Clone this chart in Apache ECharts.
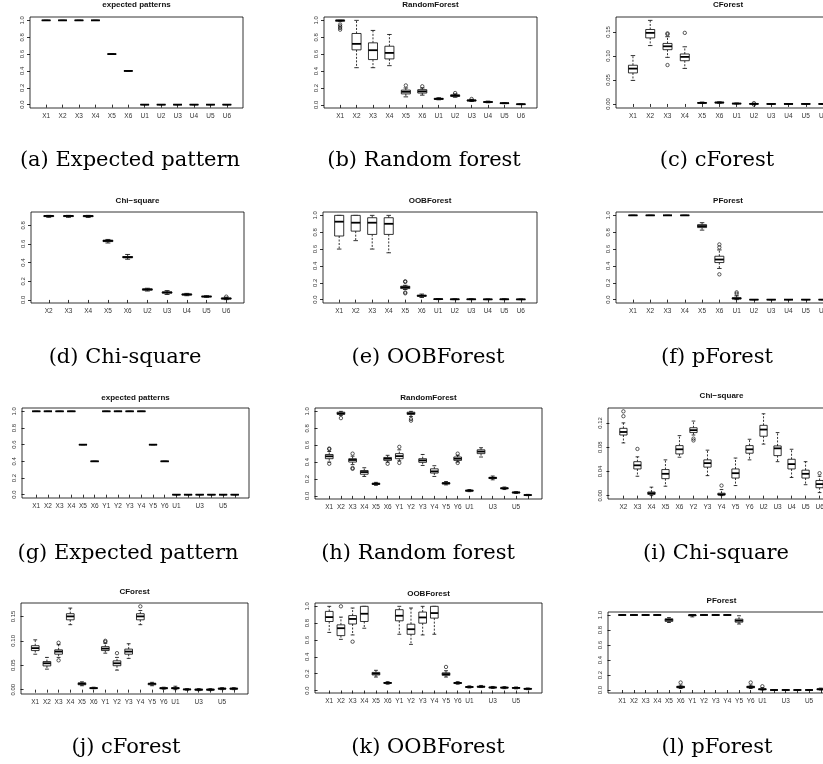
<!DOCTYPE html>
<html>
<head>
<meta charset="utf-8">
<script src="https://cdn.jsdelivr.net/npm/echarts@6/dist/echarts.min.js"></script>
<style>
html, body { margin: 0; padding: 0; background: #fff; }
#main { width: 823px; height: 764px; }
</style>
</head>
<body>
<div id="main"></div>
<script>
// tick labels on the x axes
var lab12 = ['X1', 'X2', 'X3', 'X4', 'X5', 'X6', 'U1', 'U2', 'U3', 'U4', 'U5', 'U6']
var labChi10 = ['X2', 'X3', 'X4', 'X5', 'X6', 'U2', 'U3', 'U4', 'U5', 'U6']
var lab18 = ['X1', 'X2', 'X3', 'X4', 'X5', 'X6', 'Y1', 'Y2', 'Y3', 'Y4', 'Y5', 'Y6', 'U1', '', 'U3', '', 'U5', '']
var labChi15 = ['X2', 'X3', 'X4', 'X5', 'X6', 'Y2', 'Y3', 'Y4', 'Y5', 'Y6', 'U2', 'U3', 'U4', 'U5', 'U6']

// y tick values
var ticks10 = [0, 0.2, 0.4, 0.6, 0.8, 1.0]
var ticks08 = [0, 0.2, 0.4, 0.6, 0.8]
var ticks15 = [0, 0.05, 0.10, 0.15]
var ticks12 = [0, 0.04, 0.08, 0.12]

// expected patterns
var expA = [1, 1, 1, 1, 0.6, 0.4, 0, 0, 0, 0, 0, 0]
var expG = [1, 1, 1, 1, 0.6, 0.4, 1, 1, 1, 1, 0.6, 0.4, 0, 0, 0, 0, 0, 0]

// box stats: [lower whisker, Q1, median, Q3, upper whisker]
var rfB = [[0.985, 0.99, 1.0, 1.0, 1.0], [0.44, 0.651, 0.722, 0.845, 1.0], [0.44, 0.536, 0.647, 0.734, 0.881],
  [0.464, 0.544, 0.615, 0.694, 0.833], [0.095, 0.13, 0.155, 0.175, 0.2], [0.115, 0.14, 0.16, 0.18, 0.2],
  [0.06, 0.065, 0.071, 0.078, 0.085], [0.09, 0.1, 0.11, 0.118, 0.13], [0.04, 0.047, 0.052, 0.058, 0.065],
  [0.025, 0.03, 0.034, 0.038, 0.045], [0.015, 0.018, 0.02, 0.022, 0.025], [0.003, 0.006, 0.008, 0.01, 0.012]]
var rfBOut = [[0.95, 0.93, 0.91, 0.89], [], [], [], [0.23], [0.22], [], [0.14], [0.07], [], [], []]

var cfC = [[0.049, 0.0646, 0.0736, 0.0806, 0.1007], [0.1215, 0.1375, 0.148, 0.155, 0.174], [0.097, 0.113, 0.12, 0.126, 0.14],
  [0.074, 0.09, 0.098, 0.104, 0.119], [0.001, 0.0015, 0.0022, 0.003, 0.004], [0.0015, 0.002, 0.003, 0.0035, 0.0045],
  [0, 0.0004, 0.0008, 0.0012, 0.002], [-0.0008, -0.0003, 0.0002, 0.0006, 0.0012], [-0.0005, -0.0002, 0, 0.0002, 0.0005],
  [-0.0008, -0.0003, 0, 0.0003, 0.0008], [-0.0004, -0.0002, 0, 0.0002, 0.0004], [-0.0004, -0.0002, 0, 0.0002, 0.0004]]
var cfCOut = [[], [], [0.145, 0.147, 0.081], [0.148], [], [], [], [0.0018, -0.0014], [], [], [], []]

var chiD = [[0.885, 0.893, 0.9, 0.903, 0.906], [0.885, 0.893, 0.9, 0.903, 0.906], [0.884, 0.892, 0.899, 0.903, 0.906],
  [0.61, 0.625, 0.633, 0.64, 0.648], [0.436, 0.452, 0.458, 0.465, 0.487], [0.095, 0.105, 0.112, 0.118, 0.125],
  [0.058, 0.073, 0.08, 0.085, 0.1], [0.045, 0.053, 0.058, 0.063, 0.07], [0.028, 0.033, 0.036, 0.04, 0.045],
  [0.003, 0.01, 0.015, 0.02, 0.03]]
var chiDOut = [[], [], [], [], [], [], [], [], [], [0.035]]

var oobE = [[0.6, 0.755, 0.925, 1.0, 1.0], [0.7, 0.813, 0.913, 1.0, 1.0], [0.6, 0.774, 0.913, 0.972, 1.0],
  [0.556, 0.774, 0.9, 0.972, 1.0], [0.12, 0.131, 0.147, 0.159, 0.17], [0.025, 0.04, 0.046, 0.052, 0.066],
  [0, 0.003, 0.006, 0.008, 0.012], [0, 0.002, 0.004, 0.006, 0.01], [0, 0.002, 0.004, 0.006, 0.01],
  [0, 0.002, 0.003, 0.005, 0.008], [0, 0.002, 0.004, 0.006, 0.01], [0, 0.001, 0.003, 0.005, 0.008]]
var oobEOut = [[], [], [], [], [0.218, 0.21, 0.085, 0.075], [], [], [], [], [], [], []]

var pfF = [[1, 1, 1, 1, 1], [1, 1, 1, 1, 1], [1, 1, 1, 1, 1], [1, 1, 1, 1, 1],
  [0.825, 0.855, 0.873, 0.89, 0.913], [0.37, 0.44, 0.476, 0.515, 0.59], [0, 0.008, 0.015, 0.022, 0.045],
  [0, 0, 0, 0, 0], [0, 0, 0, 0, 0], [0, 0, 0, 0, 0], [0, 0, 0, 0, 0], [0, 0, 0, 0, 0]]
var pfFOut = [[], [], [], [], [], [0.655, 0.62, 0.3], [0.087, 0.07], [], [], [], [], []]

var rfH = [[0.4, 0.44, 0.468, 0.49, 0.525], [0.95, 0.965, 0.975, 0.99, 1.0], [0.37, 0.4, 0.425, 0.44, 0.47],
  [0.23, 0.256, 0.282, 0.3, 0.333], [0.125, 0.135, 0.143, 0.15, 0.16], [0.4, 0.42, 0.44, 0.455, 0.48],
  [0.415, 0.44, 0.47, 0.5, 0.545], [0.94, 0.965, 0.975, 0.99, 1.0], [0.36, 0.397, 0.42, 0.44, 0.49],
  [0.23, 0.27, 0.29, 0.32, 0.357], [0.13, 0.14, 0.15, 0.156, 0.17], [0.4, 0.42, 0.44, 0.46, 0.48],
  [0.05, 0.056, 0.062, 0.067, 0.075], [0.46, 0.5, 0.524, 0.545, 0.57], [0.19, 0.205, 0.213, 0.22, 0.235],
  [0.075, 0.085, 0.09, 0.095, 0.105], [0.03, 0.035, 0.04, 0.045, 0.05], [0.003, 0.007, 0.01, 0.013, 0.018]]
var rfHOut = [[0.56, 0.553, 0.38], [0.92], [0.5, 0.33, 0.32], [], [], [0.38], [0.58, 0.39], [0.91, 0.89], [],
  [], [], [0.5, 0.39], [], [], [], [], [], []]

var chiI = [[0.087, 0.1, 0.105, 0.111, 0.12], [0.032, 0.044, 0.05, 0.056, 0.064], [0, 0.002, 0.004, 0.006, 0.014],
  [0.0155, 0.028, 0.036, 0.043, 0.059], [0.0634, 0.0688, 0.0764, 0.0825, 0.099], [0.1, 0.104, 0.108, 0.112, 0.123],
  [0.033, 0.047, 0.0536, 0.059, 0.075], [0, 0.001, 0.002, 0.004, 0.01], [0.0166, 0.029, 0.037, 0.044, 0.062],
  [0.059, 0.07, 0.0764, 0.0825, 0.093], [0.085, 0.098, 0.109, 0.116, 0.135], [0.056, 0.066, 0.078, 0.082, 0.104],
  [0.03, 0.044, 0.052, 0.06, 0.0765], [0.018, 0.029, 0.036, 0.042, 0.056], [0.005, 0.013, 0.019, 0.025, 0.032]]
var chiIOut = [[0.139, 0.131], [0.077], [], [], [], [0.094, 0.091], [], [0.0166], [], [], [], [], [], [], [0.037]]

var cfJ = [[0.0726, 0.08, 0.085, 0.09, 0.102], [0.042, 0.0486, 0.054, 0.0575, 0.066], [0.066, 0.0726, 0.078, 0.0815, 0.092],
  [0.133, 0.143, 0.15, 0.1555, 0.167], [0.008, 0.01, 0.012, 0.014, 0.016], [0.002, 0.0025, 0.003, 0.004, 0.005],
  [0.0747, 0.08, 0.084, 0.088, 0.095], [0.04, 0.049, 0.054, 0.059, 0.066], [0.064, 0.0726, 0.078, 0.083, 0.094],
  [0.133, 0.143, 0.15, 0.1555, 0.162], [0.008, 0.01, 0.012, 0.013, 0.015], [0.001, 0.002, 0.003, 0.004, 0.005],
  [0, 0.002, 0.003, 0.004, 0.007], [-0.001, 0, 0.0005, 0.001, 0.002], [-0.002, -0.001, 0, 0.001, 0.002],
  [-0.002, -0.001, 0, 0.001, 0.002], [0, 0.001, 0.002, 0.003, 0.004], [0, 0.001, 0.002, 0.003, 0.004]]
var cfJOut = [[], [], [0.096, 0.06], [], [], [], [0.1, 0.098], [0.0747], [], [0.1705], [], [], [], [], [], [], [], []]

var oobK = [[0.69, 0.82, 0.872, 0.94, 1.0], [0.608, 0.652, 0.74, 0.78, 0.872], [0.66, 0.79, 0.85, 0.89, 0.98],
  [0.74, 0.82, 0.912, 1.0, 1.0], [0.16, 0.185, 0.2, 0.215, 0.24], [0.075, 0.085, 0.09, 0.095, 0.105],
  [0.668, 0.828, 0.888, 0.96, 1.0], [0.548, 0.668, 0.728, 0.788, 0.98], [0.66, 0.8, 0.868, 0.932, 1.0],
  [0.668, 0.86, 0.92, 1.0, 1.0], [0.16, 0.18, 0.195, 0.21, 0.235], [0.075, 0.083, 0.09, 0.095, 0.105],
  [0.03, 0.037, 0.042, 0.046, 0.055], [0.035, 0.04, 0.045, 0.05, 0.06], [0.025, 0.032, 0.036, 0.04, 0.048],
  [0.022, 0.03, 0.034, 0.038, 0.046], [0.02, 0.027, 0.031, 0.035, 0.042], [0.01, 0.016, 0.02, 0.024, 0.03]]
var oobKOut = [[], [1.0], [0.58], [], [], [], [], [], [], [], [0.28], [], [], [], [], [], [], []]

var pfL = [[1, 1, 1, 1, 1], [1, 1, 1, 1, 1], [1, 1, 1, 1, 1], [1, 1, 1, 1, 1],
  [0.9, 0.915, 0.935, 0.95, 0.965], [0.02, 0.03, 0.04, 0.05, 0.065], [0.975, 0.99, 1, 1, 1],
  [1, 1, 1, 1, 1], [1, 1, 1, 1, 1], [1, 1, 1, 1, 1], [0.88, 0.905, 0.925, 0.945, 0.99],
  [0.02, 0.03, 0.04, 0.05, 0.065], [0, 0.005, 0.01, 0.015, 0.03], [0, 0, 0, 0, 0], [0, 0, 0, 0, 0],
  [0, 0, 0, 0, 0], [0, 0, 0, 0, 0], [0, 0.005, 0.01, 0.015, 0.025]]
var pfLOut = [[], [], [], [], [], [0.1], [], [], [], [], [], [0.1], [0.05], [], [], [], [], []]

function flat (vals) {
  return vals.map(function (v) { return [v, v, v, v, v] })
}
function none (n) {
  var a = []
  for (var i = 0; i < n; i++) a.push([])
  return a
}

// layout of the 12 panels: box = [left, top, width, height]
var panels = [
  { title: 'expected patterns', cap: '(a) Expected pattern', lab: lab12, stats: flat(expA), out: none(12), ticks: ticks10, dec: 1, box: [30, 17, 213, 91], ty: 5, cx: 130, cy: 161, bw: 0.53 },
  { title: 'RandomForest', cap: '(b) Random forest', lab: lab12, stats: rfB, out: rfBOut, ticks: ticks10, dec: 1, box: [324, 17, 213, 91], ty: 5, cx: 424, cy: 161, bw: 0.55 },
  { title: 'CForest', cap: '(c) cForest', lab: lab12, stats: cfC, out: cfCOut, ticks: ticks15, dec: 2, box: [616, 17, 224, 91], ty: 5, cx: 717, cy: 161, bw: 0.52 },
  { title: 'Chi\u2212square', cap: '(d) Chi-square', lab: labChi10, stats: chiD, out: chiDOut, ticks: ticks08, dec: 1, box: [31, 212, 213, 91], ty: 201, cx: 125, cy: 358, bw: 0.5 },
  { title: 'OOBForest', cap: '(e) OOBForest', lab: lab12, stats: oobE, out: oobEOut, ticks: ticks10, dec: 1, box: [323, 212, 214, 91], ty: 201, cx: 428, cy: 358, bw: 0.55 },
  { title: 'PForest', cap: '(f) pForest', lab: lab12, stats: pfF, out: pfFOut, ticks: ticks10, dec: 1, box: [616, 212, 224, 91], ty: 201, cx: 717, cy: 358, bw: 0.52 },
  { title: 'expected patterns', cap: '(g) Expected pattern', lab: lab18, stats: flat(expG), out: none(18), ticks: ticks10, dec: 1, box: [22, 408, 227, 90], ty: 398, cx: 128, cy: 554, bw: 0.7 },
  { title: 'RandomForest', cap: '(h) Random forest', lab: lab18, stats: rfH, out: rfHOut, ticks: ticks10, dec: 1, box: [315, 408, 227, 91], ty: 398, cx: 418, cy: 554, bw: 0.66 },
  { title: 'Chi\u2212square', cap: '(i) Chi-square', lab: labChi15, stats: chiI, out: chiIOut, ticks: ticks12, dec: 2, box: [608, 408, 227, 91], ty: 396, cx: 716, cy: 554, bw: 0.52 },
  { title: 'CForest', cap: '(j) cForest', lab: lab18, stats: cfJ, out: cfJOut, ticks: ticks15, dec: 2, box: [21, 603, 227, 91], ty: 592, cx: 126, cy: 748, bw: 0.66 },
  { title: 'OOBForest', cap: '(k) OOBForest', lab: lab18, stats: oobK, out: oobKOut, ticks: ticks10, dec: 1, box: [315, 603, 227, 90], ty: 594, cx: 428, cy: 748, bw: 0.66 },
  { title: 'PForest', cap: '(l) pForest', lab: lab18, stats: pfL, out: pfLOut, ticks: ticks10, dec: 1, box: [608, 612, 227, 81], ty: 601, cx: 717, cy: 748, bw: 0.66 }
]

// R style y range: data extent padded by 4%
function yLim (stats, outs) {
  var lo = Infinity
  var hi = -Infinity
  stats.forEach(function (s) { lo = Math.min(lo, s[0]); hi = Math.max(hi, s[4]) })
  outs.forEach(function (o) { o.forEach(function (v) { lo = Math.min(lo, v); hi = Math.max(hi, v) }) })
  var pad = (hi - lo) * 0.04
  return [lo - pad, hi + pad]
}

function makeRender (bw) {
  return function (params, api) {
    var x = api.value(0)
    var pL = api.coord([x, api.value(1)])
    var p1 = api.coord([x, api.value(2)])
    var pM = api.coord([x, api.value(3)])
    var p3 = api.coord([x, api.value(4)])
    var pH = api.coord([x, api.value(5)])
    var half = api.size([bw, 0])[0] / 2
    var cx = pM[0]
    var thin = { stroke: '#000', lineWidth: 0.8 }
    var dash = { stroke: '#000', lineWidth: 0.8, lineDash: [2, 1.5] }
    return {
      type: 'group',
      children: [
        { type: 'line', shape: { x1: cx, y1: p3[1], x2: cx, y2: pH[1] }, style: dash },
        { type: 'line', shape: { x1: cx, y1: p1[1], x2: cx, y2: pL[1] }, style: dash },
        { type: 'line', shape: { x1: cx - half / 2, y1: pH[1], x2: cx + half / 2, y2: pH[1] }, style: thin },
        { type: 'line', shape: { x1: cx - half / 2, y1: pL[1], x2: cx + half / 2, y2: pL[1] }, style: thin },
        { type: 'rect', shape: { x: cx - half, y: p3[1], width: half * 2, height: p1[1] - p3[1] }, style: { fill: '#fff', stroke: '#000', lineWidth: 0.8 } },
        { type: 'line', shape: { x1: cx - half, y1: pM[1], x2: cx + half, y2: pM[1] }, style: { stroke: '#000', lineWidth: 1.8 } }
      ]
    }
  }
}

var grids = []
var xAxes = []
var yAxes = []
var series = []
var graphics = []

panels.forEach(function (p, i) {
  var n = p.stats.length
  var idx = []
  for (var k = 1; k <= n; k++) idx.push(k)
  var yl = yLim(p.stats, p.out)
  grids.push({
    left: p.box[0], top: p.box[1], width: p.box[2], height: p.box[3],
    show: true, borderColor: '#000', borderWidth: 0.8, backgroundColor: 'transparent',
    containLabel: false, outerBoundsMode: 'none'
  })
  xAxes.push({
    gridIndex: i, type: 'value', min: 0.5 - 0.04 * n, max: n + 0.5 + 0.04 * n,
    axisLine: { show: false }, splitLine: { show: false },
    axisTick: { show: true, length: 3, customValues: idx, lineStyle: { color: '#000', width: 0.8 } },
    axisLabel: {
      customValues: idx, margin: 5, fontSize: 6.5, color: '#333', fontFamily: 'Liberation Sans',
      formatter: (function (lab) { return function (v) { return lab[Math.round(v) - 1] || '' } })(p.lab)
    }
  })
  yAxes.push({
    gridIndex: i, type: 'value', min: yl[0], max: yl[1],
    axisLine: { show: false }, splitLine: { show: false },
    axisTick: { show: true, length: 3, customValues: p.ticks, lineStyle: { color: '#000', width: 0.8 } },
    axisLabel: {
      customValues: p.ticks, rotate: 90, margin: 5, fontSize: 6, color: '#333', fontFamily: 'Liberation Sans',
      formatter: (function (d) { return function (v) { return v.toFixed(d) } })(p.dec)
    }
  })
  series.push({
    type: 'custom', xAxisIndex: i, yAxisIndex: i, silent: true,
    renderItem: makeRender(p.bw),
    data: p.stats.map(function (s, k) { return [k + 1].concat(s) })
  })
  var pts = []
  p.out.forEach(function (o, k) { o.forEach(function (v) { pts.push([k + 1, v]) }) })
  series.push({
    type: 'scatter', xAxisIndex: i, yAxisIndex: i, silent: true, symbol: 'circle', symbolSize: 3.4,
    itemStyle: { color: 'rgba(0,0,0,0)', borderColor: '#000', borderWidth: 0.8 },
    data: pts
  })
  graphics.push({
    type: 'text', x: p.box[0] + p.box[2] / 2, y: p.ty,
    style: { text: p.title, fontSize: 8, fontWeight: 'bold', fontFamily: 'Liberation Sans', fill: '#111', align: 'center', verticalAlign: 'middle' }
  })
  graphics.push({
    type: 'text', x: p.cx, y: p.cy,
    style: { text: p.cap, fontSize: 21, fontFamily: 'DejaVu Serif', fill: '#000', align: 'center', verticalAlign: 'middle' }
  })
})

var chart = echarts.init(document.getElementById('main'), null, { renderer: 'canvas' })
chart.setOption({
  animation: false,
  backgroundColor: '#fff',
  grid: grids,
  xAxis: xAxes,
  yAxis: yAxes,
  series: series,
  graphic: graphics
})
</script>
</body>
</html>
